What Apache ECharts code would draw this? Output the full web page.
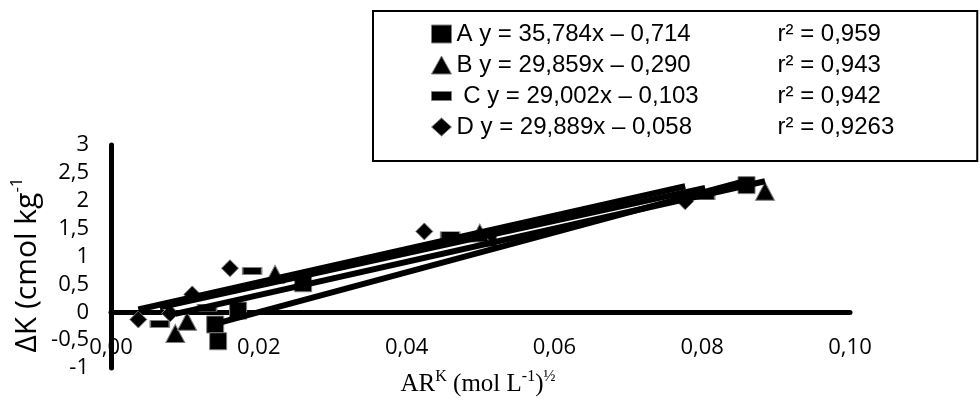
<!DOCTYPE html>
<html>
<head>
<meta charset="utf-8">
<script src="https://cdn.jsdelivr.net/npm/echarts@6/dist/echarts.min.js"></script>
<style>html,body{margin:0;padding:0;background:#fff}#c{width:980px;height:412px}</style>
</head>
<body>
<div id="c"></div>
<script>
// ---- data ----
const seriesNames = ['A', 'B', 'C', 'D'];
const eqLabels = ['A y = 35,784x – 0,714', 'B y = 29,859x – 0,290', ' C y = 29,002x – 0,103', 'D y = 29,889x – 0,058'];
const r2Labels = ['r² = 0,959', 'r² = 0,943', 'r² = 0,942', 'r² = 0,9263'];

const aX = [0.0141, 0.0145, 0.0172, 0.0260, 0.0510, 0.0860];
const aY = [-0.22, -0.52, 0.03, 0.52, 1.33, 2.28];
const bX = [0.0087, 0.0103, 0.0222, 0.0499, 0.0885];
const bY = [-0.38, -0.16, 0.68, 1.42, 2.17];
const cX = [0.0066, 0.0130, 0.0191, 0.0459, 0.0804];
const cY = [-0.21, 0.08, 0.74, 1.38, 2.08];
const dX = [0.0037, 0.0080, 0.0110, 0.0161, 0.0424, 0.0777];
const dY = [-0.13, -0.02, 0.32, 0.79, 1.45, 1.99];

// trendline end points
const trendA = [[0.0141, -0.21], [0.0860, 2.36]];
const trendB = [[0.0087, -0.03], [0.0885, 2.35]];
const trendC = [[0.0066, 0.09], [0.0804, 2.23]];
const trendD = [[0.0037, 0.05], [0.0777, 2.26]];

const xMin = 0, xMax = 0.10, xStep = 0.02;
const yMin = -1, yMax = 3, yStep = 0.5;

const yTitle = 'ΔK (cmol kg';
const xTitle = 'AR';

// ---- chart ----
const zip = (xs, ys) => xs.map((x, i) => [x, ys[i]]);
const tickFont = '"Open Sans", sans-serif';
const legFont = '"Liberation Sans", Arial, sans-serif';
const serif = '"Liberation Serif", "Times New Roman", serif';
const border = { borderColor: '#808080', borderWidth: 1, color: '#000', opacity: 1 };

const scatter = (name, xs, ys, symbol, size) => ({
  name, type: 'scatter', data: zip(xs, ys), symbol, symbolSize: size,
  itemStyle: border, z: 3, silent: true
});
const trend = (pts) => ({
  type: 'line', data: pts, symbol: 'none', z: 5, silent: true,
  lineStyle: { color: '#000', width: 6 }
});

const chart = echarts.init(document.getElementById('c'), null, { renderer: 'canvas' });
chart.setOption({
  animation: false,
  backgroundColor: '#fff',
  grid: { left: 111, right: 130, top: 145, bottom: 44, containLabel: false },
  xAxis: {
    type: 'value', min: xMin, max: xMax, interval: xStep,
    axisLine: { onZero: true, lineStyle: { color: '#000', width: 5 } },
    axisTick: { show: false }, splitLine: { show: false },
    axisLabel: {
      margin: -31, color: '#000', fontFamily: tickFont, fontSize: 22,
      formatter: v => v.toFixed(2).replace('.', ',')
    }
  },
  yAxis: {
    type: 'value', min: yMin, max: yMax, interval: yStep,
    axisLine: { onZero: true, lineStyle: { color: '#000', width: 5 } },
    axisTick: { show: false }, splitLine: { show: false },
    axisLabel: {
      margin: 22, color: '#000', fontFamily: tickFont, fontSize: 22,
      formatter: v => String(v).replace('.', ',')
    }
  },
  legend: {
    orient: 'vertical', left: 373, top: 11,
    padding: [11, 83, 22, 58],
    borderColor: '#000', borderWidth: 2, backgroundColor: '#fff',
    itemWidth: 20, itemHeight: 18, itemGap: 7,
    selectedMode: false,
    itemStyle: { color: '#000', borderColor: '#808080', borderWidth: 1, opacity: 1 },
    data: [
      { name: 'A', icon: 'rect' },
      { name: 'B', icon: 'triangle' },
      { name: 'C', icon: 'path://M0,0H20V9H0Z' },
      { name: 'D', icon: 'diamond' }
    ],
    formatter: name => {
      const i = seriesNames.indexOf(name);
      return '{a|' + eqLabels[i] + '}{b|' + r2Labels[i] + '}';
    },
    textStyle: {
      color: '#000', fontFamily: legFont, fontSize: 24,
      rich: {
        a: { width: 321, fontSize: 24, fontFamily: legFont, color: '#000' },
        b: { fontSize: 24, fontFamily: legFont, color: '#000' }
      }
    }
  },
  graphic: [
    {
      type: 'text', x: 27, y: 265, rotation: Math.PI / 2,
      style: {
        text: '{m|' + yTitle + '}{s|-1}',
        align: 'center', verticalAlign: 'middle',
        rich: {
          m: { fontSize: 30, fontFamily: tickFont, fill: '#000', lineHeight: 36 },
          s: { fontSize: 17, fontFamily: tickFont, fill: '#000', verticalAlign: 'top', lineHeight: 36 }
        }
      }
    },
    {
      type: 'text', x: 478, y: 384,
      style: {
        text: '{m|' + xTitle + '}{s|K}{m| (mol L}{s|-1}{m|)}{s|½}',
        align: 'center', verticalAlign: 'middle',
        rich: {
          m: { fontSize: 25, fontFamily: serif, fill: '#000', lineHeight: 30 },
          s: { fontSize: 16, fontFamily: serif, fill: '#000', verticalAlign: 'top', lineHeight: 30 }
        }
      }
    }
  ],
  series: [
    scatter('A', aX, aY, 'rect', 17),
    scatter('B', bX, bY, 'triangle', [19, 18]),
    scatter('C', cX, cY, 'rect', [19, 7]),
    scatter('D', dX, dY, 'diamond', [17, 17]),
    trend(trendA), trend(trendB), trend(trendC), trend(trendD)
  ]
});
</script>
</body>
</html>
